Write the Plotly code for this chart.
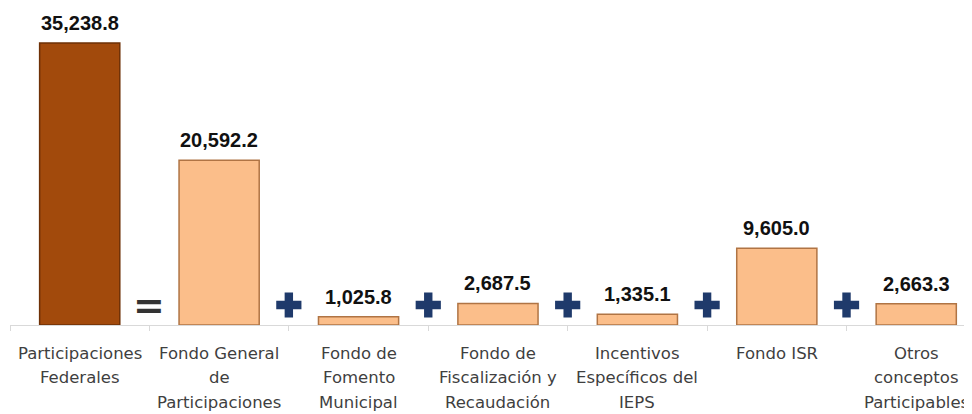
import plotly.graph_objects as go

categories = ["Participaciones<br>Federales", "Fondo General<br>de<br>Participaciones",
              "Fondo de<br>Fomento<br>Municipal", "Fondo de<br>Fiscalización y<br>Recaudación",
              "Incentivos<br>Específicos del<br>IEPS", "Fondo ISR",
              "Otros<br>conceptos<br>Participables"]
values = [35238.8, 20592.2, 1025.8, 2687.5, 1335.1, 9605.0, 2663.3]
value_labels = ["35,238.8", "20,592.2", "1,025.8", "2,687.5", "1,335.1", "9,605.0", "2,663.3"]
operators = ["=", "+", "+", "+", "+", "+"]

bar_colors = ["#A24A0C"] + ["#FBBE8A"] * 6
line_colors = ["#6E3006"] + ["#B07444"] * 6

idx = list(range(len(categories)))
OP_Y = 2500

fig = go.Figure()
fig.add_trace(go.Bar(
    x=idx, y=values, width=0.575,
    marker=dict(color=bar_colors, line=dict(color=line_colors, width=1.5)),
    hoverinfo="skip", showlegend=False,
))

# plus signs between categories
plus_x = [i + 0.5 for i, op in enumerate(operators) if op == "+"]
fig.add_trace(go.Scatter(
    x=plus_x, y=[OP_Y] * len(plus_x), mode="markers",
    marker=dict(symbol="cross", size=21, color="#1F3A6B", line=dict(width=0)),
    hoverinfo="skip", showlegend=False,
))

annotations = []
for i, (v, lab) in enumerate(zip(values, value_labels)):
    annotations.append(dict(x=i, y=v, text="<b>" + lab + "</b>", showarrow=False, yanchor="bottom",
                            yshift=7, font=dict(family="Arial, Liberation Sans",
                                                size=20, color="#111111")))
for i, op in enumerate(operators):
    if op == "=":
        annotations.append(dict(x=i + 0.5, y=OP_Y, text="<b>=</b>", showarrow=False,
                                yanchor="middle", font=dict(family="DejaVu Sans", size=38, color="#333333")))

# category labels, one annotation per line
for i, cat in enumerate(categories):
    for k, line in enumerate(cat.split("<br>")):
        annotations.append(dict(x=i, y=0, yref="paper", text=line, showarrow=False,
                                yanchor="middle", yshift=-(28 + 24.5 * k),
                                font=dict(family="DejaVu Sans", size=16.5, color="#3F3F3F")))

boundaries = [i - 0.5 for i in idx] + [idx[-1] + 0.5]

# page body has an 8px default margin; the figure is sized to fill the 972x414 window
fig.update_layout(
    width=964, height=406,
    margin=dict(l=2, r=0, t=0, b=89),
    plot_bgcolor="white", paper_bgcolor="white",
    annotations=annotations,
    xaxis=dict(
        tickmode="array", tickvals=boundaries, showticklabels=False,
        range=[-0.5, 6.4], showgrid=False, zeroline=False, automargin=False,
        showline=True, linecolor="#D9D9D9", linewidth=1,
        ticks="outside", ticklen=5, tickcolor="#D9D9D9",
    ),
    yaxis=dict(range=[0, 39613], visible=False, showgrid=False, automargin=False),
)

fig.write_html("out.html")
